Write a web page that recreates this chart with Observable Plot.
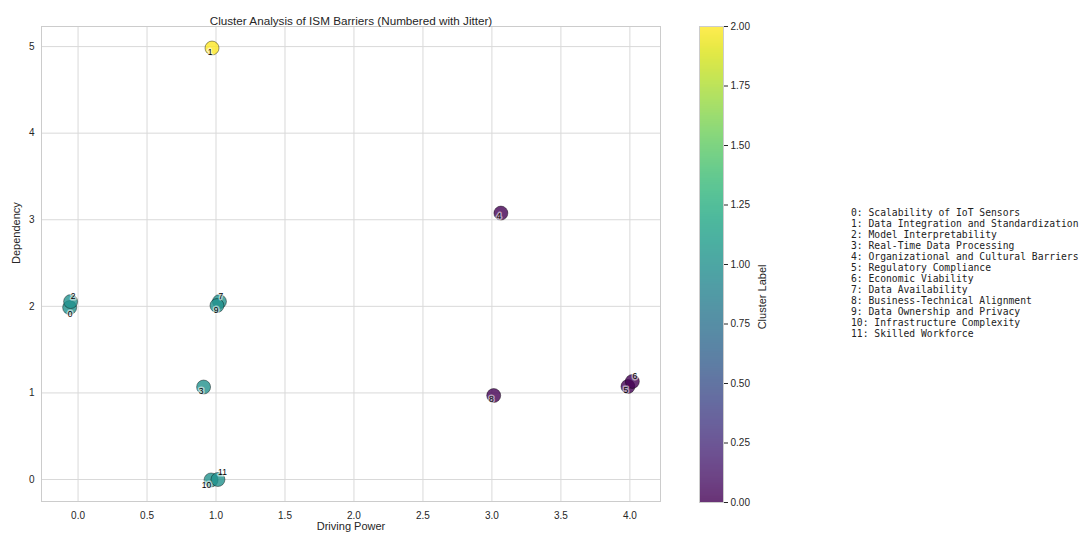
<!DOCTYPE html>
<html><head><meta charset="utf-8">
<script src="https://cdn.jsdelivr.net/npm/d3@7"></script>
<script src="https://cdn.jsdelivr.net/npm/@observablehq/plot@0.6"></script>
<style>
body{margin:0;background:#fff;}
#wrap{position:relative;width:1085px;height:535px;font-family:"Liberation Sans",Arial,sans-serif;color:#262626;}
#wrap > svg, #wrap > div{position:absolute;left:0;top:0;}
#legend{left:851px !important;top:207px !important;font-family:"DejaVu Sans Mono",monospace;font-size:9.7px;line-height:11px;white-space:pre;color:#222;}
</style></head><body><div id="wrap"></div>
<script>
// barrier ids and names
const ids = [0,1,2,3,4,5,6,7,8,9,10,11];
const barrierNames = [
  "Scalability of IoT Sensors",
  "Data Integration and Standardization",
  "Model Interpretability",
  "Real-Time Data Processing",
  "Organizational and Cultural Barriers",
  "Regulatory Compliance",
  "Economic Viability",
  "Data Availability",
  "Business-Technical Alignment",
  "Data Ownership and Privacy",
  "Infrastructure Complexity",
  "Skilled Workforce"
];
// jittered point values
const drivingPower = [-0.061, 0.971, -0.054, 0.910, 3.065, 3.986, 4.018, 1.025, 3.013, 1.007, 0.964, 1.014];
const dependency   = [1.986, 4.983, 2.055, 1.068, 3.077, 1.074, 1.132, 2.055, 0.970, 2.009, -0.005, 0.000];
const clusterLabel = [1, 2, 1, 1, 0, 0, 0, 1, 0, 1, 1, 1];
// jittered number-label values
const labelDriving    = [-0.058, 0.957, -0.036, 0.892, 3.051, 3.971, 4.036, 1.036, 2.996, 1.000, 0.931, 1.047];
const labelDependency = [1.905, 4.930, 2.119, 1.016, 3.037, 1.033, 1.189, 2.119, 0.924, 1.952, -0.064, 0.081];
// ticks
const xTicks = [0, 0.5, 1, 1.5, 2, 2.5, 3, 3.5, 4];
const yTicks = [0, 1, 2, 3, 4, 5];
const cbarTicks = [0, 0.25, 0.5, 0.75, 1, 1.25, 1.5, 1.75, 2];

const data = ids.map((id, i) => ({
  id, x: drivingPower[i], y: dependency[i], cluster: clusterLabel[i],
  lx: labelDriving[i], ly: labelDependency[i]
}));

const font = '"Liberation Sans", Arial, sans-serif';
const color = {type: "linear", scheme: "viridis", domain: [0, 2]};

const main = Plot.plot({
  width: 1085, height: 535,
  marginLeft: 41, marginRight: 425, marginTop: 26, marginBottom: 34,
  x: {domain: [-0.265, 4.222]},
  y: {domain: [-0.254, 5.232]},
  color,
  style: {fontFamily: font, fontSize: "10px", color: "#262626", background: "white"},
  marks: [
    Plot.gridX(xTicks, {stroke: "#d9d9d9", strokeOpacity: 1}),
    Plot.gridY(yTicks, {stroke: "#d9d9d9", strokeOpacity: 1}),
    Plot.frame({stroke: "#cccccc"}),
    Plot.axisX(xTicks, {tickSize: 0, tickPadding: 10, tickFormat: d3.format(".1f"), label: null}),
    Plot.axisY(yTicks, {tickSize: 0, tickPadding: 7, tickFormat: d3.format("d"), label: null}),
    Plot.dot(data, {x: "x", y: "y", r: 7, fill: "cluster", fillOpacity: 0.8,
      stroke: "black", strokeWidth: 0.5, strokeOpacity: 0.8}),
    Plot.text(data, {x: "lx", y: "ly", text: d => String(d.id), fontSize: 8.5, fill: "black",
      stroke: "white", strokeWidth: 3, strokeOpacity: 0.55}),
    Plot.text(["Cluster Analysis of ISM Barriers (Numbered with Jitter)"],
      {frameAnchor: "top", text: d => d, dy: -10, fontSize: 11.7, fill: "#262626"}),
    Plot.text(["Driving Power"], {frameAnchor: "bottom", text: d => d, dy: 28, fontSize: 11, fill: "#262626"}),
    Plot.text(["Dependency"], {frameAnchor: "left", text: d => d, dx: -25, rotate: -90, fontSize: 11, fill: "#262626"})
  ]
});

const cbar = Plot.plot({
  width: 1085, height: 535,
  marginLeft: 699, marginRight: 1085 - 723, marginTop: 26, marginBottom: 33,
  x: {domain: [0, 1], axis: null},
  y: {domain: [0, 2], axis: null},
  color,
  style: {fontFamily: font, fontSize: "10px", color: "#262626", background: "transparent"},
  marks: [
    Plot.raster({x1: 0, x2: 1, y1: 0, y2: 2, width: 1, height: 476,
      fill: (x, y) => y, fillOpacity: 0.8, imageRendering: "auto"}),
    Plot.frame({stroke: "#cccccc"}),
    Plot.axisY(cbarTicks, {anchor: "right", tickSize: 4, tickPadding: 3, tickFormat: d3.format(".2f"), label: null}),
    Plot.text(["Cluster Label"], {frameAnchor: "right", text: d => d, dx: 39, rotate: -90, fontSize: 11, fill: "#262626"})
  ]
});

const wrap = document.getElementById("wrap");
wrap.appendChild(main);
wrap.appendChild(cbar);
const legend = document.createElement("div");
legend.id = "legend";
legend.textContent = ids.map((id, i) => `${id}: ${barrierNames[i]}`).join("\n");
wrap.appendChild(legend);
</script>
</body></html>
